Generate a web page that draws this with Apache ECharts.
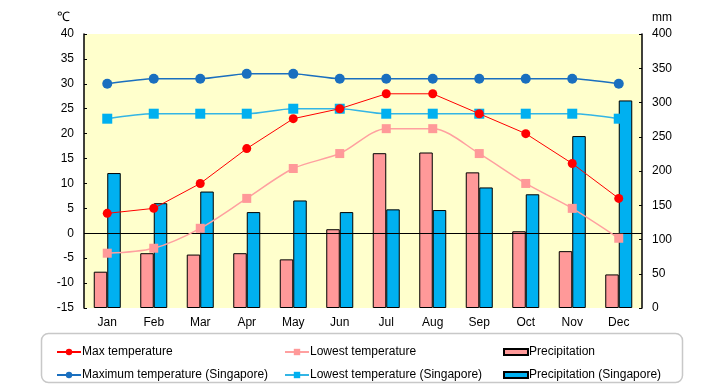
<!DOCTYPE html>
<html><head><meta charset="utf-8">
<script src="https://cdn.jsdelivr.net/npm/echarts@6/dist/echarts.min.js"></script>
<style>html,body{margin:0;padding:0;background:#fff}#c{width:720px;height:385px}</style>
</head><body><div id="c"></div>
<script>
const months = ['Jan','Feb','Mar','Apr','May','Jun','Jul','Aug','Sep','Oct','Nov','Dec'];
const maxTemp = [4,5,10,17,23,25,28,28,24,20,14,7];
const lowTemp = [-4,-3,1,7,13,16,21,21,16,10,5,-1];
const precip = [53,80,78,80,71,115,226,227,198,112,83,49];
const sgMax = [30,31,31,32,32,31,31,31,31,31,31,30];
const sgLow = [23,24,24,24,25,25,24,24,24,24,24,23];
const sgPrecip = [197,153,170,140,157,140,144,143,176,166,251,303];

const font = 'Liberation Sans';
const chart = echarts.init(document.getElementById('c'));
const legendCommon = {itemWidth:24,itemHeight:8,itemGap:0,textStyle:{fontSize:12,color:'#000',fontFamily:font,padding:[0,0,0,-4]}};
chart.setOption({
  animation:false,
  grid:{left:84,right:78,top:34,bottom:77,show:true,backgroundColor:'#ffffcc',borderWidth:0},
  graphic:[{type:'rect',shape:{x:41.5,y:333.5,width:641,height:49,r:7},style:{fill:'#fff',stroke:'#c8c8c8',lineWidth:1.5},z:-1}],
  legend:[
    Object.assign({data:['Max temperature'],left:51,top:341},legendCommon),
    Object.assign({data:['Maximum temperature (Singapore)'],left:51,top:364},legendCommon),
    Object.assign({data:['Lowest temperature'],left:279,top:341},legendCommon),
    Object.assign({data:['Lowest temperature (Singapore)'],left:279,top:364},legendCommon),
    Object.assign({data:[{name:'Precipitation',icon:'rect'}],left:498,top:341},legendCommon,{itemHeight:6}),
    Object.assign({data:[{name:'Precipitation (Singapore)',icon:'rect'}],left:498,top:364},legendCommon,{itemHeight:6})
  ],
  xAxis:{type:'category',data:months,axisLine:{show:false,onZero:false},axisTick:{show:false},
    axisLabel:{fontSize:12,color:'#000',fontFamily:font,margin:9}},
  yAxis:[
    {type:'value',min:-15,max:40,interval:5,name:'℃',nameLocation:'end',nameGap:10,
     nameTextStyle:{fontSize:13,color:'#000',fontFamily:font,align:'right',padding:[0,14,0,0]},
     axisLine:{show:true,lineStyle:{color:'#000',width:1.5}},axisTick:{show:true,inside:true,length:3,lineStyle:{color:'#000'}},
     splitLine:{show:false},axisLabel:{fontSize:12,color:'#000',fontFamily:font,margin:10}},
    {type:'value',min:0,max:400,interval:50,name:'mm',nameLocation:'end',nameGap:10,
     nameTextStyle:{fontSize:12,color:'#000',fontFamily:font,align:'left',padding:[0,0,0,10]},
     axisLine:{show:true,lineStyle:{color:'#000',width:1.5}},axisTick:{show:true,inside:true,length:3,lineStyle:{color:'#000'}},
     splitLine:{show:false},axisLabel:{fontSize:12,color:'#000',fontFamily:font,margin:10}}
  ],
  series:[
    {name:'Precipitation',type:'bar',yAxisIndex:1,data:precip,barWidth:13.5,barGap:'0%',
     itemStyle:{color:'#ff9999',borderColor:'#000',borderWidth:1},z:1},
    {name:'Precipitation (Singapore)',type:'bar',yAxisIndex:1,data:sgPrecip,barWidth:13.5,barGap:'0%',
     itemStyle:{color:'#00b0f0',borderColor:'#000',borderWidth:1},z:1},
    {name:'Max temperature',type:'line',data:maxTemp,symbol:'circle',symbolSize:9,
     lineStyle:{color:'#ff0000',width:1},itemStyle:{color:'#ff0000'},z:5,
     markLine:{silent:true,symbol:'none',label:{show:false},lineStyle:{color:'#000',width:1,type:'solid'},data:[{yAxis:0}],z:3}},
    {name:'Lowest temperature',type:'line',data:lowTemp,symbol:'rect',symbolSize:9,smooth:0.3,
     lineStyle:{color:'#ffa0a0',width:1.5},itemStyle:{color:'#ff9999'},z:4},
    {name:'Maximum temperature (Singapore)',type:'line',data:sgMax,symbol:'circle',symbolSize:10,smooth:0.2,
     lineStyle:{color:'#1a6fbf',width:1.5},itemStyle:{color:'#1a6fbf'},z:4},
    {name:'Lowest temperature (Singapore)',type:'line',data:sgLow,symbol:'rect',symbolSize:10,smooth:0.3,
     lineStyle:{color:'#33b5e5',width:1.5},itemStyle:{color:'#00b0f0'},z:4}
  ]
});
</script></body></html>
